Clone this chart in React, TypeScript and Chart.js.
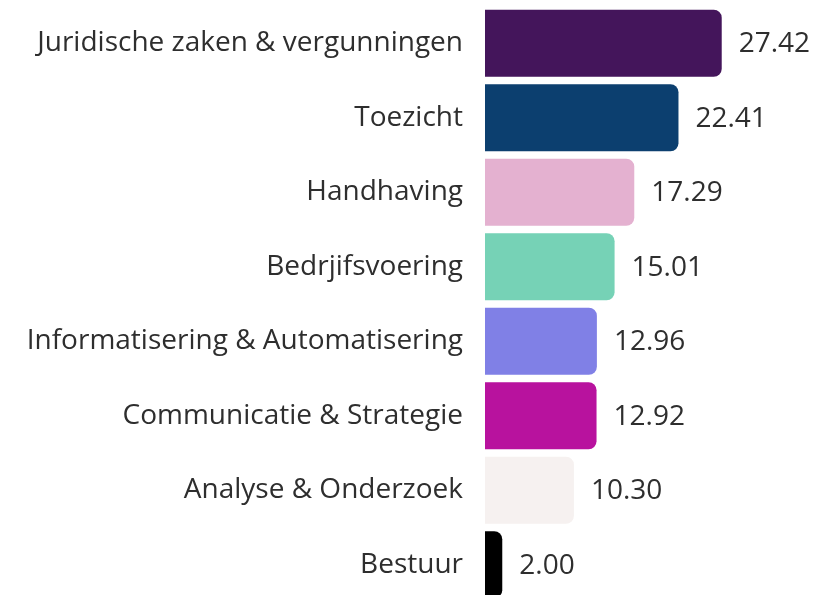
import React, { useEffect, useRef } from "react";
import { Chart, registerables } from "chart.js";

Chart.register(...registerables);

const categories = [
  "Juridische zaken & vergunningen",
  "Toezicht",
  "Handhaving",
  "Bedrjifsvoering",
  "Informatisering & Automatisering",
  "Communicatie & Strategie",
  "Analyse & Onderzoek",
  "Bestuur",
];
const values = [27.42, 22.41, 17.29, 15.01, 12.96, 12.92, 10.3, 2.0];
const colors = [
  "#44155b",
  "#0c3f6f",
  "#e4b1d0",
  "#76d2b6",
  "#8080e6",
  "#b8129e",
  "#f6f1f0",
  "#000000",
];

const FONT = "'Open Sans', 'Noto Sans', sans-serif";

const valueLabels = {
  id: "valueLabels",
  afterDatasetsDraw(chart: any) {
    const ctx = chart.ctx;
    const meta = chart.getDatasetMeta(0);
    ctx.save();
    ctx.font = `28px ${FONT}`;
    ctx.fillStyle = "#2e2e2e";
    ctx.textAlign = "left";
    ctx.textBaseline = "middle";
    meta.data.forEach((bar: any, i: number) => {
      ctx.fillText(values[i].toFixed(2), bar.x + 17, bar.y + 1);
    });
    ctx.restore();
  },
};

export default function App() {
  const ref = useRef<HTMLCanvasElement>(null);
  useEffect(() => {
    if (!ref.current) return;
    const chart = new Chart(ref.current, {
      type: "bar",
      data: {
        labels: categories,
        datasets: [
          {
            data: values,
            backgroundColor: colors,
            borderRadius: 8,
            borderSkipped: "start",
            barPercentage: 0.9,
            categoryPercentage: 1,
          },
        ],
      },
      options: {
        indexAxis: "y",
        responsive: false,
        animation: false,
        layout: { padding: { top: 6, bottom: 0, left: 0, right: 87 } },
        plugins: { legend: { display: false }, tooltip: { enabled: false } },
        scales: {
          x: { display: false, min: 0, max: 30 },
          y: {
            grid: { display: false, drawTicks: false },
            border: { display: false },
            ticks: {
              padding: 22,
              color: "#2e2e2e",
              font: { family: FONT, size: 28 },
            },
            afterFit: (s: any) => {
              s.width = 485;
              s.paddingTop = 0;
              s.paddingBottom = 0;
            },
          },
        },
      },
      plugins: [valueLabels],
    });
    return () => chart.destroy();
  }, []);
  return (
    <div style={{ position: "absolute", left: 0, top: 0, width: 831, height: 602, overflow: "hidden" }}>
      <canvas ref={ref} width={831} height={602} />
    </div>
  );
}
